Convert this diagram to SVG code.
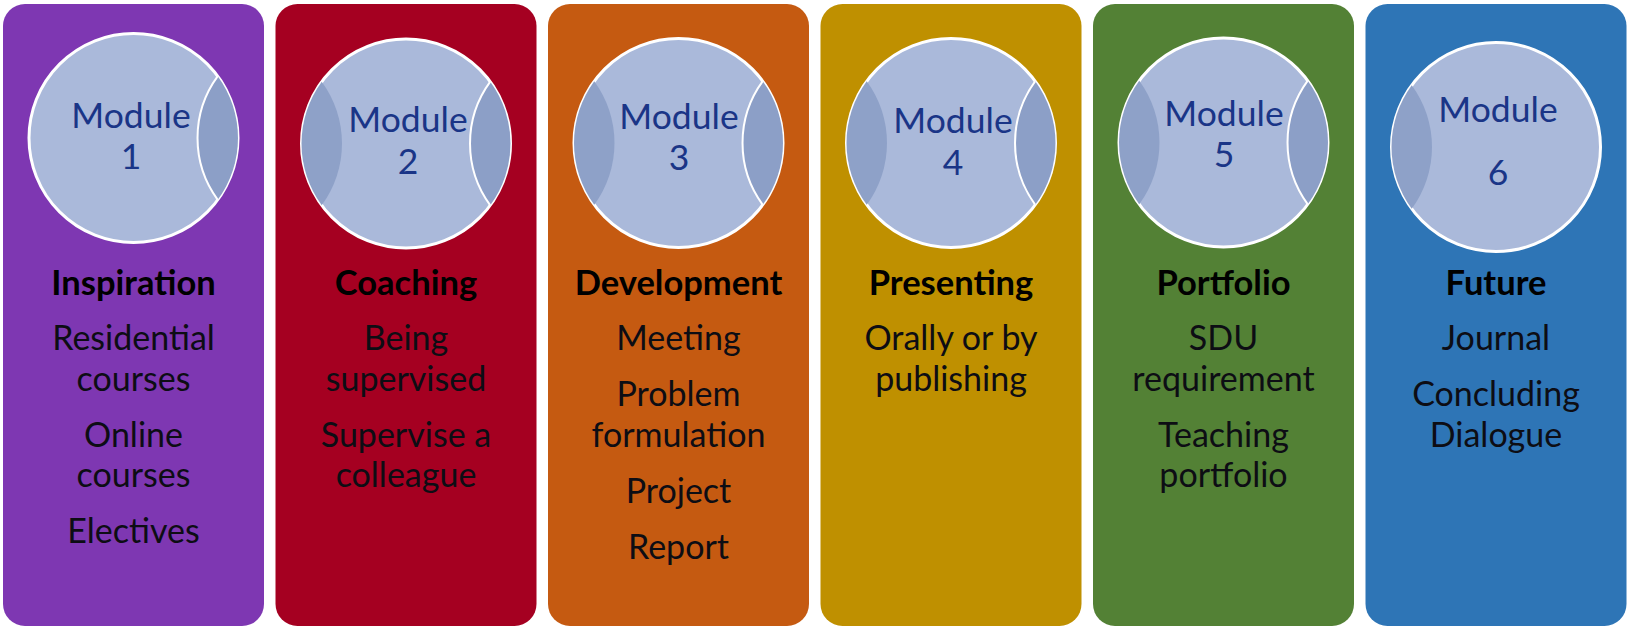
<svg xmlns="http://www.w3.org/2000/svg" width="1633" height="629" viewBox="0 0 1633 629">
<style>
.panel{stroke:none}
.disc{fill:#AAB9DA;stroke:#fff;stroke-width:3}
.lens{fill:#8C9FC7}
.lensL{fill:#8EA1C8}
.edge{fill:none;stroke:#fff;stroke-width:2}
.mod{font-family:Lato,"Open Sans",sans-serif;font-size:35.5px;fill:#1A3587;text-anchor:middle}
.ttl{font-family:Lato,"Open Sans",sans-serif;font-size:34.5px;font-weight:bold;fill:#000;text-anchor:middle}
.txt{font-family:Lato,"Open Sans",sans-serif;font-size:34px;fill:#0d0d14;text-anchor:middle}
</style>
<rect width="1633" height="629" fill="#fff"/>

<g id="module1">
<rect class="panel" x="3" y="4" width="261" height="622" rx="22" fill="#7E37B2"/>
<circle class="disc" cx="133.5" cy="138" r="104.5"/>
<path class="lens" d="M217.75,76.2 A104.5,104.5 0 0 1 217.75,199.8 A104.5,104.5 0 0 1 217.75,76.2 Z"/>
<path class="edge" d="M217.75,199.8 A104.5,104.5 0 0 1 217.75,76.2"/>
<text class="mod" x="131" y="128">Module</text>
<text class="mod" x="131" y="169">1</text>
<text class="ttl" x="133.5" y="295">Inspiration</text>
<text class="txt" x="133.5" y="350">Residential</text>
<text class="txt" x="133.5" y="390.5">courses</text>
<text class="txt" x="133.5" y="446.5">Online</text>
<text class="txt" x="133.5" y="487">courses</text>
<text class="txt" x="133.5" y="543">Electives</text>
</g>

<g id="module2">
<rect class="panel" x="275.5" y="4" width="261" height="622" rx="22" fill="#A50021"/>
<circle class="disc" cx="406" cy="143.5" r="104.5"/>
<path class="lensL" d="M321.75,205.3 A104.5,104.5 0 0 1 321.75,81.7 A104.5,104.5 0 0 1 321.75,205.3 Z"/>
<path class="lens" d="M490.25,81.7 A104.5,104.5 0 0 1 490.25,205.3 A104.5,104.5 0 0 1 490.25,81.7 Z"/>
<path class="edge" d="M490.25,205.3 A104.5,104.5 0 0 1 490.25,81.7"/>
<text class="mod" x="408" y="132">Module</text>
<text class="mod" x="408" y="174">2</text>
<text class="ttl" x="406" y="295">Coaching</text>
<text class="txt" x="406" y="350">Being</text>
<text class="txt" x="406" y="390.5">supervised</text>
<text class="txt" x="406" y="446.5">Supervise a</text>
<text class="txt" x="406" y="487">colleague</text>
</g>

<g id="module3">
<rect class="panel" x="548" y="4" width="261" height="622" rx="22" fill="#C55A11"/>
<circle class="disc" cx="678.5" cy="143" r="104.5"/>
<path class="lensL" d="M594.25,204.8 A104.5,104.5 0 0 1 594.25,81.2 A104.5,104.5 0 0 1 594.25,204.8 Z"/>
<path class="lens" d="M762.75,81.2 A104.5,104.5 0 0 1 762.75,204.8 A104.5,104.5 0 0 1 762.75,81.2 Z"/>
<path class="edge" d="M762.75,204.8 A104.5,104.5 0 0 1 762.75,81.2"/>
<text class="mod" x="679" y="129">Module</text>
<text class="mod" x="679" y="170">3</text>
<text class="ttl" x="678.5" y="295">Development</text>
<text class="txt" x="678.5" y="350">Meeting</text>
<text class="txt" x="678.5" y="406">Problem</text>
<text class="txt" x="678.5" y="446.5">formulation</text>
<text class="txt" x="678.5" y="502.5">Project</text>
<text class="txt" x="678.5" y="558.5">Report</text>
</g>

<g id="module4">
<rect class="panel" x="820.5" y="4" width="261" height="622" rx="22" fill="#BF9000"/>
<circle class="disc" cx="951" cy="143" r="104.5"/>
<path class="lensL" d="M866.75,204.8 A104.5,104.5 0 0 1 866.75,81.2 A104.5,104.5 0 0 1 866.75,204.8 Z"/>
<path class="lens" d="M1035.25,81.2 A104.5,104.5 0 0 1 1035.25,204.8 A104.5,104.5 0 0 1 1035.25,81.2 Z"/>
<path class="edge" d="M1035.25,204.8 A104.5,104.5 0 0 1 1035.25,81.2"/>
<text class="mod" x="953" y="133">Module</text>
<text class="mod" x="953" y="175">4</text>
<text class="ttl" x="951" y="295">Presenting</text>
<text class="txt" x="951" y="350">Orally or by</text>
<text class="txt" x="951" y="390.5">publishing</text>
</g>

<g id="module5">
<rect class="panel" x="1093" y="4" width="261" height="622" rx="22" fill="#538135"/>
<circle class="disc" cx="1223.5" cy="142.5" r="104.5"/>
<path class="lensL" d="M1139.25,204.3 A104.5,104.5 0 0 1 1139.25,80.7 A104.5,104.5 0 0 1 1139.25,204.3 Z"/>
<path class="lens" d="M1307.75,80.7 A104.5,104.5 0 0 1 1307.75,204.3 A104.5,104.5 0 0 1 1307.75,80.7 Z"/>
<path class="edge" d="M1307.75,204.3 A104.5,104.5 0 0 1 1307.75,80.7"/>
<text class="mod" x="1224" y="126">Module</text>
<text class="mod" x="1224" y="167">5</text>
<text class="ttl" x="1223.5" y="295">Portfolio</text>
<text class="txt" x="1223.5" y="350">SDU</text>
<text class="txt" x="1223.5" y="390.5">requirement</text>
<text class="txt" x="1223.5" y="446.5">Teaching</text>
<text class="txt" x="1223.5" y="487">portfolio</text>
</g>

<g id="module6">
<rect class="panel" x="1365.5" y="4" width="261" height="622" rx="22" fill="#2E75B6"/>
<circle class="disc" cx="1496" cy="147" r="104.5"/>
<path class="lensL" d="M1411.75,208.8 A104.5,104.5 0 0 1 1411.75,85.2 A104.5,104.5 0 0 1 1411.75,208.8 Z"/>
<text class="mod" x="1498" y="122">Module</text>
<text class="mod" x="1498" y="185">6</text>
<text class="ttl" x="1496" y="295">Future</text>
<text class="txt" x="1496" y="350">Journal</text>
<text class="txt" x="1496" y="406">Concluding</text>
<text class="txt" x="1496" y="446.5">Dialogue</text>
</g>

<g id="connectors"></g>
</svg>
